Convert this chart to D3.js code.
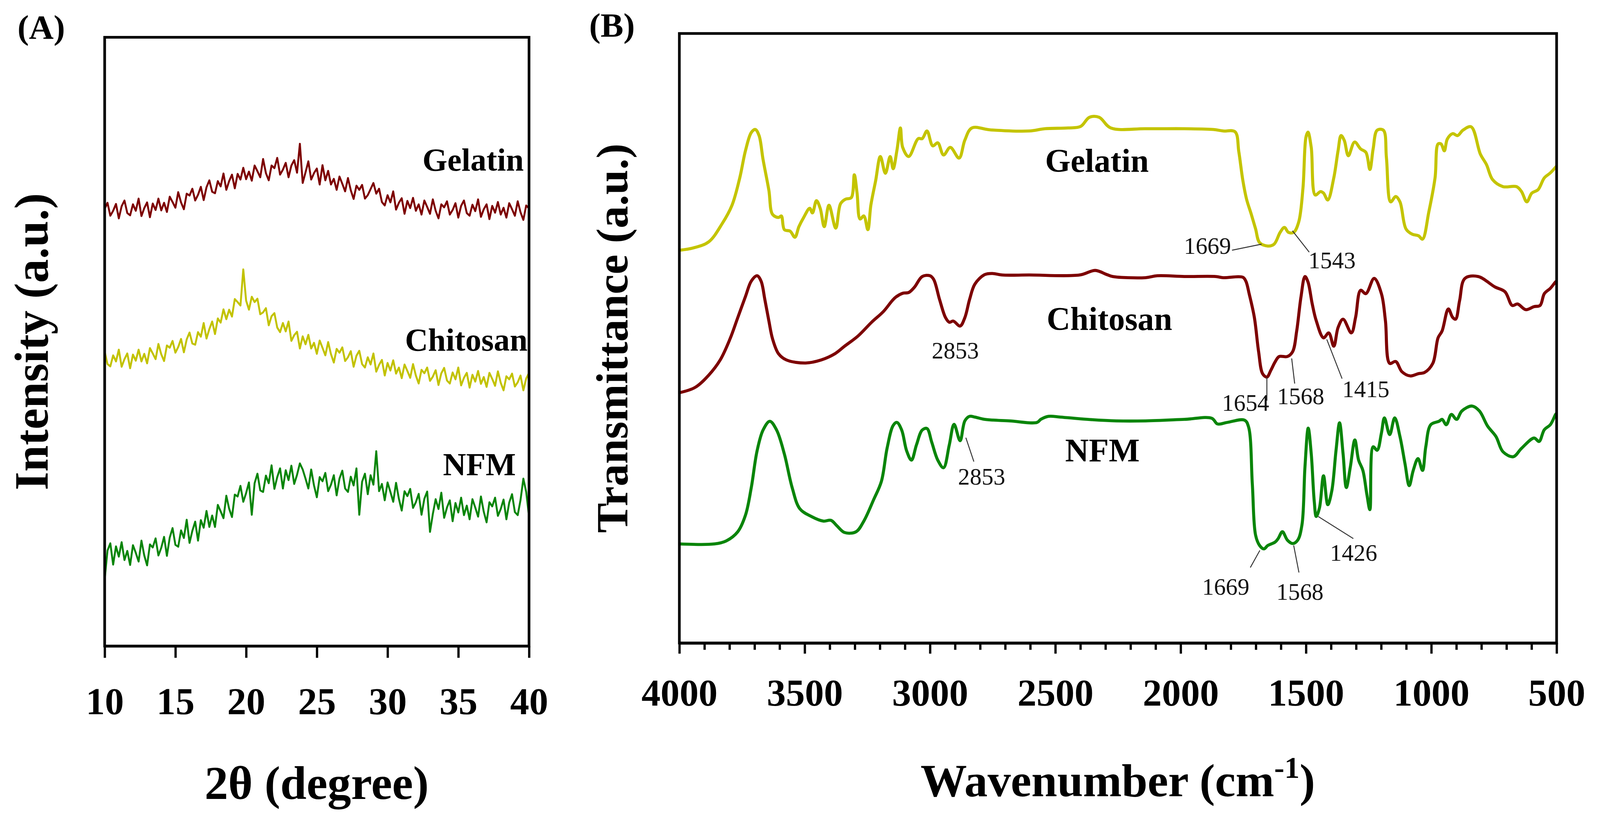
<!DOCTYPE html>
<html>
<head>
<meta charset="utf-8">
<script src="https://cdn.jsdelivr.net/npm/d3@7"></script>
<style>
  html, body { margin: 0; padding: 0; background: #fff; overflow: hidden; }
  svg { display: block; width: 100vw; height: 100vh; }
</style>
</head>
<body>
<div id="chart"></div>
<script>
// ---------- (A) XRD data, 2theta from 10 to 40 every 0.2 degree ----------
const gelatinXrd = [
  1149,1165,1131,1144,1162,1124,1156,1171,1138,1132,
  1161,1144,1176,1130,1151,1166,1127,1163,1146,1176,
  1145,1165,1141,1181,1167,1152,1193,1166,1148,1189,
  1184,1202,1171,1186,1207,1172,1206,1224,1194,1190,
  1222,1208,1242,1199,1222,1239,1203,1241,1226,1257,
  1227,1247,1223,1263,1248,1232,1280,1243,1224,1263,
  1256,1283,1239,1252,1270,1232,1263,1277,1244,1320,
  1217,1245,1274,1226,1243,1255,1213,1264,1224,1249,
  1213,1228,1199,1234,1215,1195,1230,1198,1175,1210,
  1199,1212,1176,1185,1201,1217,1189,1202,1167,1158,
  1185,1166,1195,1147,1165,1177,1136,1170,1151,1178,
  1144,1161,1134,1171,1154,1136,1174,1144,1124,1161,
  1153,1169,1134,1146,1164,1126,1157,1171,1138,1131,
  1160,1143,1174,1128,1148,1161,1122,1157,1139,1167,
  1134,1152,1126,1164,1148,1131,1169,1140,1120,1158,
  1150
];
const chitosanXrd = [
  774,741,735,764,748,779,734,754,769,730,
  766,750,779,748,768,743,783,769,754,794,
  767,749,790,784,802,771,786,807,772,806,
  824,795,792,825,813,849,808,833,853,820,
  861,850,885,859,884,866,912,904,895,990,
  908,884,918,904,913,872,877,888,843,867,
  875,837,825,849,827,853,802,817,826,782,
  814,793,818,782,797,768,803,784,764,799,
  767,745,781,771,785,749,759,775,734,763,
  776,741,732,759,740,769,721,739,752,711,
  744,724,751,716,732,704,740,723,705,741,
  711,690,726,717,732,697,708,725,686,717,
  731,698,690,719,701,732,685,705,718,679,
  713,695,723,689,707,681,718,702,684,722,
  692,672,709,701,716,682,693,711,672,703,
  718
];
const nfmXrd = [
  175,251,270,214,262,235,273,226,250,213,
  265,245,222,277,238,212,267,259,283,238,
  258,287,237,285,310,266,261,304,284,332,
  271,303,327,277,331,311,355,313,343,313,
  371,354,336,395,361,339,398,393,421,379,
  402,430,345,428,453,409,405,448,428,475,
  413,444,467,414,462,436,474,426,450,480,
  464,440,414,464,422,391,444,433,455,407,
  424,449,396,440,461,414,405,445,422,467,
  345,432,453,399,449,424,512,407,426,383,
  430,405,379,429,387,356,407,394,413,363,
  378,400,345,387,406,300,347,386,360,403,
  337,364,383,328,376,351,390,344,369,333,
  386,364,340,393,353,325,378,367,390,342,
  360,385,333,377,399,352,344,384,440,405,
  341
];
const twoTheta = gelatinXrd.map((d, i) => +(10 + i * 0.2).toFixed(1));
const xrdTicks = [10, 15, 20, 25, 30, 35, 40];
const xrdNames = ['Gelatin', 'Chitosan', 'NFM'];
const xrdLabelAngle = [32.47, 31.23, 33.92];
const xrdLabelLevel = [1249, 776, 449];

// ---------- (B) FTIR data ----------
const gelatinWn = [4000,3945,3883,3829,3790,3759,3736,3713,3697,3682,3666,3643,3628,3604,3593,3581,3558,3539,3523,3504,
  3480,3469,3453,3438,3422,3403,3376,3357,3337,3314,3302,3291,3279,3264,3248,3236,3217,3198,3178,3159,
  3147,3132,3118,3109,3085,3047,3031,3012,2989,2969,2946,2919,2884,2861,2833,2759,2604,2542,2449,2399,
  2364,2325,2279,2140,1985,1869,1830,1783,1768,1752,1737,1718,1701,1685,1652,1627,1603,1586,1570,1549,
  1529,1512,1500,1492,1479,1463,1442,1430,1413,1389,1372,1360,1347,1331,1306,1282,1261,1245,1232,1216,
  1191,1179,1162,1142,1125,1101,1076,1051,1035,1010,985,973,961,948,936,915,895,874,841,804,
  780,755,714,660,640,619,599,574,549,525,500];
const gelatinT = [1031,1037,1053,1101,1149,1221,1293,1340,1348,1332,1269,1189,1125,1117,1121,1085,1081,1065,1093,1117,
  1141,1129,1161,1141,1093,1149,1089,1153,1165,1169,1229,1181,1113,1121,1085,1149,1213,1277,1233,1277,
  1245,1293,1352,1301,1277,1324,1324,1344,1305,1313,1281,1301,1273,1320,1352,1347,1344,1350,1352,1356,
  1380,1380,1352,1350,1350,1348,1344,1342,1290,1215,1165,1125,1087,1051,1042,1047,1078,1091,1078,1078,
  1105,1194,1328,1341,1301,1176,1185,1181,1163,1221,1292,1332,1319,1279,1315,1297,1288,1243,1297,1346,
  1346,1274,1158,1172,1158,1087,1073,1069,1060,1131,1221,1310,1310,1292,1323,1337,1332,1346,1355,1283,
  1256,1216,1198,1198,1185,1158,1181,1190,1221,1234,1252];

const chitosanWn = [4000,3937,3883,3837,3798,3767,3736,3713,3690,3674,3659,3643,3628,3604,3573,3496,3434,3380,3341,3287,
  3233,3186,3140,3109,3085,3062,3031,3000,2985,2962,2938,2923,2907,2880,2861,2842,2821,2782,2751,2713,
  2604,2403,2341,2294,2271,2140,2093,1985,1861,1830,1752,1740,1726,1706,1689,1673,1656,1640,1623,1607,
  1574,1553,1537,1520,1504,1492,1475,1459,1430,1409,1389,1372,1352,1319,1302,1282,1261,1228,1199,1183,
  1166,1142,1117,1084,1051,1027,994,973,957,932,915,903,887,866,813,747,706,677,656,623,
  590,566,549,525,504,500];
const chitosanT = [657,671,703,743,798,854,910,950,964,950,902,846,798,759,743,735,743,759,779,806,
  842,870,906,918,920,934,962,964,954,902,854,842,845,832,854,902,942,967,970,966,
  966,966,978,967,962,959,964,962,962,959,960,950,915,855,765,707,698,716,738,752,
  752,765,819,908,962,948,890,846,801,814,779,828,850,814,855,926,917,957,917,846,
  734,739,712,701,707,710,734,801,819,877,855,850,899,957,962,935,922,886,890,875,
  883,886,917,931,948,950];

const nfmWn = [4000,3860,3813,3767,3736,3713,3690,3666,3639,3612,3581,3550,3519,3473,3426,3395,3372,3341,3295,3264,
  3225,3194,3171,3147,3132,3113,3093,3074,3054,3031,3012,2993,2969,2946,2923,2904,2880,2861,2842,2821,
  2782,2682,2573,2558,2527,2480,2372,2256,2140,1985,1876,1853,1814,1745,1729,1714,1701,1685,1668,1652,
  1623,1611,1594,1574,1553,1533,1516,1504,1491,1479,1467,1459,1446,1430,1413,1397,1380,1366,1352,1339,
  1323,1305,1290,1273,1257,1245,1232,1216,1199,1187,1166,1146,1125,1105,1088,1072,1053,1035,1022,1002,
  969,957,940,920,899,878,837,808,775,742,714,673,640,590,570,549,525,504,500];
const nfmT = [260,260,268,292,336,408,504,559,582,559,496,408,352,332,320,322,308,290,292,320,
  376,424,512,571,579,559,504,480,520,559,563,527,480,460,520,574,531,583,595,593,
  587,583,579,587,595,593,587,583,583,587,590,575,579,585,567,417,283,256,247,256,
  265,274,292,270,261,270,310,462,564,497,372,332,355,439,363,399,506,578,497,408,
  462,533,480,453,390,350,515,506,551,591,547,591,542,471,413,453,484,453,515,573,
  582,587,573,600,587,609,622,609,569,542,502,489,511,538,529,560,573,600,603];

const ftirTicks = [4000, 3500, 3000, 2500, 2000, 1500, 1000, 500];
const ftirMinor = d3.range(500, 4001, 100).filter(d => d % 500 !== 0);
const ftirNames = ['Gelatin', 'Chitosan', 'NFM'];
const ftirLabelWn = [2334, 2284, 2312];
const ftirLabelLevel = [1237, 822, 476];

// peak annotations: label, text position (wn, level), leader line ends
const peakText = ['1669', '1543', '2853', '1654', '1568', '1415', '2853', '1669', '1568', '1426'];
const peakTextWn = [1893, 1396, 2899, 1741, 1521, 1261, 2794, 1820, 1524, 1310];
const peakTextLevel = [1022, 984, 747, 609, 627, 645, 416, 127, 113, 216];
const leaderFrom = [[1795, 1031], [1487, 1026], null, [1656, 636], [1545, 681], [1356, 694], [2825, 476], [1722, 198], [1528, 185], [1311, 274]];
const leaderTo = [[1677, 1047], [1554, 1082], null, [1656, 698], [1557, 747], [1417, 797], [2857, 539], [1684, 243], [1549, 256], [1451, 332]];

// ---------- drawing ----------
const FONT = "'Liberation Serif', 'Times New Roman', serif";
const WIDTH = 4204, HEIGHT = 2146;

// viewBox so the whole figure fits the window, pinned to the top-left
const svg = d3.select('#chart').append('svg')
  .attr('viewBox', `0 0 ${WIDTH} ${HEIGHT}`)
  .attr('preserveAspectRatio', 'xMinYMin meet');

svg.append('rect').attr('width', WIDTH).attr('height', HEIGHT).attr('fill', '#fff');

// panel boxes
const boxA = { left: 275, right: 1390, top: 98, bottom: 1698 };
const boxB = { left: 1785, right: 4090, top: 88, bottom: 1690 };

const xA = d3.scaleLinear().domain([10, 40]).range([boxA.left, boxA.right]);
const yA = d3.scaleLinear().domain([0, 1600]).range([boxA.bottom, boxA.top]);
const xB = d3.scaleLinear().domain([4000, 500]).range([boxB.left, boxB.right]);
const yB = d3.scaleLinear().domain([0, 1600]).range([boxB.bottom, boxB.top]);

// style an axis group
const styleAxis = (g, labelSize) => {
  g.select('.domain').attr('stroke', '#000').attr('stroke-width', 7);
  g.selectAll('.tick line').attr('stroke', '#000').attr('stroke-width', 6);
  g.selectAll('.tick text')
    .attr('font-family', FONT)
    .attr('font-size', labelSize)
    .attr('font-weight', 'bold')
    .attr('fill', '#000');
};

// ----- panel A -----
const xrdColors = ['#7d0000', '#c2c200', '#0a850a'];
const xrdSeries = [gelatinXrd, chitosanXrd, nfmXrd];

const xrdLine = d3.line()
  .x((d, i) => xA(twoTheta[i]))
  .y(d => yA(d));

svg.append('g').selectAll('path')
  .data(xrdSeries)
  .enter()
  .append('path')
  .attr('d', xrdLine)
  .attr('fill', 'none')
  .attr('stroke', (d, i) => xrdColors[i])
  .attr('stroke-width', 5)
  .attr('stroke-linejoin', 'round');

svg.append('rect')
  .attr('x', boxA.left).attr('y', boxA.top)
  .attr('width', boxA.right - boxA.left).attr('height', boxA.bottom - boxA.top)
  .attr('fill', 'none').attr('stroke', '#000').attr('stroke-width', 7);

svg.append('g')
  .attr('transform', `translate(0,${boxA.bottom})`)
  .call(d3.axisBottom(xA).tickValues(xrdTicks).tickSize(31).tickSizeOuter(0).tickPadding(77).tickFormat(d3.format('d')))
  .call(g => styleAxis(g, 100));

svg.append('g').selectAll('text')
  .data(xrdNames)
  .enter()
  .append('text')
  .attr('x', (d, i) => xA(xrdLabelAngle[i]))
  .attr('y', (d, i) => yA(xrdLabelLevel[i]))
  .attr('font-family', FONT)
  .attr('font-size', 84)
  .attr('font-weight', 'bold')
  .text(d => d);

// ----- panel B -----
const ftirColors = ['#c4c400', '#7d0000', '#0a850a'];
const ftirSeries = [d3.zip(gelatinWn, gelatinT), d3.zip(chitosanWn, chitosanT), d3.zip(nfmWn, nfmT)];

const ftirLine = d3.line()
  .x(d => xB(d[0]))
  .y(d => yB(d[1]))
  .curve(d3.curveCatmullRom.alpha(0.5));

svg.append('g').selectAll('path')
  .data(ftirSeries)
  .enter()
  .append('path')
  .attr('d', ftirLine)
  .attr('fill', 'none')
  .attr('stroke', (d, i) => ftirColors[i])
  .attr('stroke-width', 8)
  .attr('stroke-linejoin', 'round');

svg.append('rect')
  .attr('x', boxB.left).attr('y', boxB.top)
  .attr('width', boxB.right - boxB.left).attr('height', boxB.bottom - boxB.top)
  .attr('fill', 'none').attr('stroke', '#000').attr('stroke-width', 7);

svg.append('g')
  .attr('transform', `translate(0,${boxB.bottom})`)
  .call(d3.axisBottom(xB).tickValues(ftirMinor).tickSize(18).tickSizeOuter(0).tickFormat(''))
  .call(g => styleAxis(g, 100));

svg.append('g')
  .attr('transform', `translate(0,${boxB.bottom})`)
  .call(d3.axisBottom(xB).tickValues(ftirTicks).tickSize(28).tickSizeOuter(0).tickPadding(66).tickFormat(d3.format('d')))
  .call(g => styleAxis(g, 100));

svg.append('g').selectAll('text')
  .data(ftirNames)
  .enter()
  .append('text')
  .attr('x', (d, i) => xB(ftirLabelWn[i]))
  .attr('y', (d, i) => yB(ftirLabelLevel[i]))
  .attr('text-anchor', 'middle')
  .attr('font-family', FONT)
  .attr('font-size', 86)
  .attr('font-weight', 'bold')
  .text(d => d);

// leader lines and peak numbers
const leaders = leaderFrom.map((f, i) => ({ from: f, to: leaderTo[i] })).filter(d => d.from);
svg.append('g').selectAll('line')
  .data(leaders)
  .enter()
  .append('line')
  .attr('x1', d => xB(d.from[0]))
  .attr('y1', d => yB(d.from[1]))
  .attr('x2', d => xB(d.to[0]))
  .attr('y2', d => yB(d.to[1]))
  .attr('stroke', '#333')
  .attr('stroke-width', 2.5);

svg.append('g').selectAll('text')
  .data(peakText)
  .enter()
  .append('text')
  .attr('x', (d, i) => xB(peakTextWn[i]))
  .attr('y', (d, i) => yB(peakTextLevel[i]))
  .attr('text-anchor', 'middle')
  .attr('font-family', FONT)
  .attr('font-size', 62)
  .attr('fill', '#111')
  .text(d => d);

// ----- titles -----
const title = (x, y, txt, size, rotate) => {
  const t = svg.append('text')
    .attr('transform', `translate(${x},${y})` + (rotate ? ' rotate(-90)' : ''))
    .attr('text-anchor', 'middle')
    .attr('font-family', FONT)
    .attr('font-size', size)
    .attr('font-weight', 'bold')
    .attr('fill', '#000');
  if (txt) t.text(txt);
  return t;
};

title(832, 2100, '2θ (degree)', 124, false);
title(125, (boxA.top + boxA.bottom) / 2, 'Intensity (a.u.)', 125, true);
title(1648, (boxB.top + boxB.bottom) / 2, 'Transmittance (a.u.)', 118, true);

const wn = title(2937, 2093, null, 122, false);
wn.append('tspan').text('Wavenumber (cm');
wn.append('tspan').attr('font-size', 80).attr('dy', -48).text('-1');
wn.append('tspan').attr('dy', 48).text(')');

svg.append('text').attr('x', 46).attr('y', 102)
  .attr('font-family', FONT).attr('font-size', 90).attr('font-weight', 'bold').text('(A)');
svg.append('text').attr('x', 1548).attr('y', 96)
  .attr('font-family', FONT).attr('font-size', 90).attr('font-weight', 'bold').text('(B)');
</script>
</body>
</html>
